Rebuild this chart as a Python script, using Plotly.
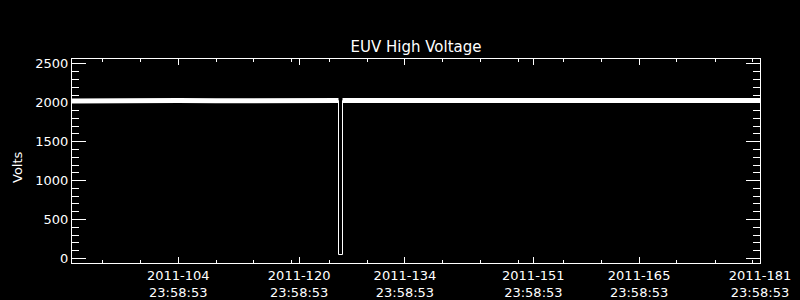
import plotly.graph_objects as go

# ---- data (day-of-year 2011, volts) ----
days = [90.94, 93.0, 95.0, 100.0, 105.0, 110.0, 115.0, 120.0, 124.0,
        126.209, 126.209, 126.739, 126.739,
        130.0, 135.0, 140.0, 145.0, 150.0, 155.0, 160.0, 165.0, 170.0,
        175.0, 182.0]
volts = [2022, 2025, 2027, 2028, 2028, 2027, 2028, 2028, 2028,
         2028, 49, 49, 2028,
         2028, 2028, 2028, 2027, 2028, 2028, 2028, 2028, 2028,
         2028, 2028]

# major tick positions (day-of-year incl. 23:58:53) and labels
major_days = [104.999, 120.999, 134.999, 151.999, 165.999, 181.999]
major_labels = ["2011-104<br>23:58:53", "2011-120<br>23:58:53",
                "2011-134<br>23:58:53", "2011-151<br>23:58:53",
                "2011-165<br>23:58:53", "2011-181<br>23:58:53"]
minor_days = [94.94, 99.97, 110.03, 114.92, 119.95, 124.98, 130.0, 139.93,
              144.96, 149.98, 155.93, 160.96, 171.0, 176.05, 180.94]
y_ticks = [0, 500, 1000, 1500, 2000, 2500]

x_range = [90.935, 181.999]
y_range = [-60, 2563]

FONT = "DejaVu Sans"

# nominal (non-dip) portions drawn as the thick noisy band
band = [v if v > 1000 else None for v in volts]

fig = go.Figure()
fig.add_trace(go.Scatter(x=days, y=band, mode="lines",
                         line=dict(color="white", width=5),
                         connectgaps=False, hoverinfo="skip"))
fig.add_trace(go.Scatter(x=days, y=volts, mode="lines",
                         line=dict(color="white", width=1)))

fig.update_layout(
    width=800, height=300,
    paper_bgcolor="black", plot_bgcolor="black",
    margin=dict(l=72, r=40, t=59, b=37, autoexpand=False),
    showlegend=False,
    font=dict(family=FONT, size=13, color="white"),
    title=dict(text="EUV High Voltage", x=0.5, xref="paper",
               y=1 - 47 / 300, yanchor="middle", xanchor="center",
               font=dict(family=FONT, size=15, color="white")),
)
fig.update_xaxes(
    range=x_range, showgrid=False, zeroline=False, automargin=False,
    showline=True, linecolor="white", linewidth=1, mirror="allticks",
    tickmode="array", tickvals=major_days, ticktext=major_labels,
    ticks="inside", ticklen=6, tickwidth=1, tickcolor="white",
    tickfont=dict(family=FONT, size=13, color="white"),
    minor=dict(tickmode="array", tickvals=minor_days, ticks="inside",
               ticklen=3, tickwidth=1, tickcolor="white", showgrid=False),
)
fig.update_yaxes(
    range=y_range, showgrid=False, zeroline=False, automargin=False,
    showline=True, linecolor="white", linewidth=1, mirror="allticks",
    tickmode="array", tickvals=y_ticks,
    ticks="inside", ticklen=14, tickwidth=1, tickcolor="white",
    tickfont=dict(family=FONT, size=13, color="white"),
    minor=dict(dtick=100, tick0=0, ticks="inside", ticklen=7, tickwidth=1,
               tickcolor="white", showgrid=False),
)
fig.add_annotation(text="Volts", textangle=-90, xref="paper", yref="paper",
                   x=(17 - 72) / 688, y=(263 - 167) / 204,
                   xanchor="center", yanchor="middle", showarrow=False,
                   font=dict(family=FONT, size=13, color="white"))

fig.write_html("out.html")
